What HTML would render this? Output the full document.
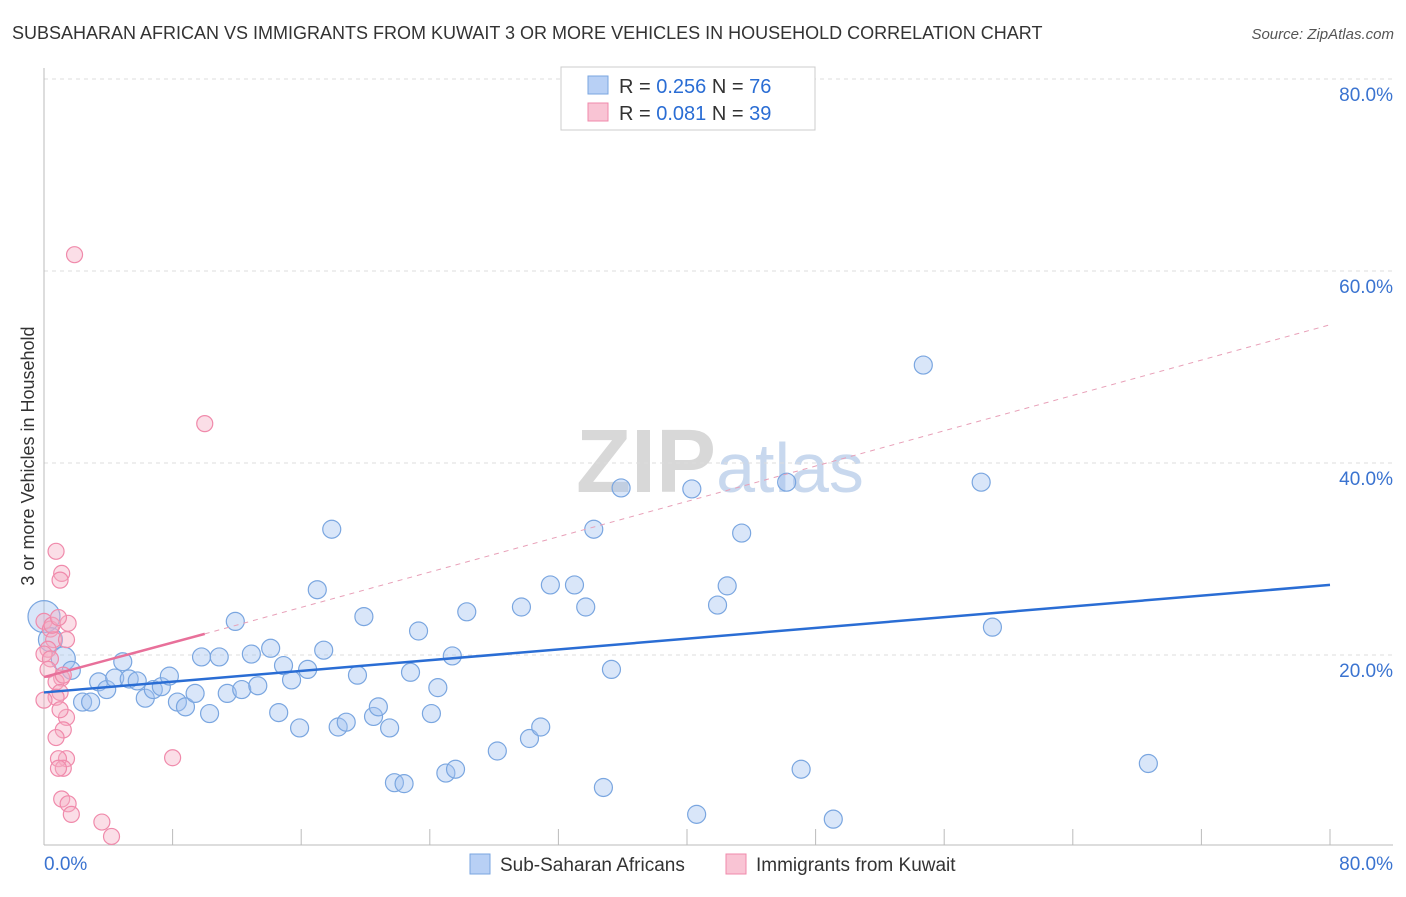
<!DOCTYPE html>
<html><head><meta charset="utf-8"><style>
body{margin:0;background:#fff;font-family:"Liberation Sans",sans-serif}
svg text{font-family:"Liberation Sans",sans-serif}
</style></head><body>
<svg id="c" width="1406" height="892" xmlns="http://www.w3.org/2000/svg">
<text x="12" y="39" font-size="18" fill="#333">SUBSAHARAN AFRICAN VS IMMIGRANTS FROM KUWAIT 3 OR MORE VEHICLES IN HOUSEHOLD CORRELATION CHART</text>
<text x="1394" y="39" font-size="15" fill="#555" text-anchor="end" font-style="italic">Source: ZipAtlas.com</text>
<text x="34" y="456" font-size="18" fill="#333" text-anchor="middle" transform="rotate(-90 34 456)">3 or more Vehicles in Household</text>
<text x="720" y="492" font-size="90" fill="#ddd" text-anchor="middle" font-family="Liberation Serif"><tspan font-weight="bold" fill="#d8d8d8">ZIP</tspan><tspan fill="#c8d8ee" font-family="Liberation Sans" font-size="70">atlas</tspan></text>
<g id="grid"></g><g id="marks"></g>
<g>
<rect x="561" y="67" width="254" height="63" fill="#fff" stroke="#ccc"/>
<rect x="588" y="76" width="20" height="18" fill="#b8d0f5" stroke="#7aa6e0"/>
<rect x="588" y="103" width="20" height="18" fill="#f9c4d4" stroke="#f08aab"/>
<text x="619" y="93" font-size="20" fill="#333">R = <tspan fill="#2a6dd4">0.256</tspan>   N = <tspan fill="#2a6dd4">76</tspan></text>
<text x="619" y="120" font-size="20" fill="#333">R = <tspan fill="#2a6dd4">0.081</tspan>   N = <tspan fill="#2a6dd4">39</tspan></text>
</g>
<g>
<rect x="470" y="854" width="20" height="20" fill="#b8d0f5" stroke="#7aa6e0"/>
<text x="500" y="871" font-size="19" fill="#333">Sub-Saharan Africans</text>
<rect x="726" y="854" width="20" height="20" fill="#f9c4d4" stroke="#f08aab"/>
<text x="756" y="871" font-size="19" fill="#333">Immigrants from Kuwait</text>
</g>
</svg>
<script>
const yTicks=[20,40,60,80];
const xTicks=[0,8,16,24,32,40,48,56,64,72,80];
const blueX=[0,0.4,1.2,1.7,2.4,2.9,3.4,3.9,4.4,4.9,5.3,5.8,6.3,6.8,7.3,7.8,8.3,8.8,9.4,9.8,10.3,10.9,11.4,11.9,12.3,12.9,13.3,14.1,14.6,14.9,15.4,15.9,16.4,17.0,17.4,17.9,18.3,18.8,19.5,19.9,20.5,20.8,21.5,21.8,22.4,22.8,23.3,24.1,24.5,25.0,25.4,25.6,26.3,28.2,29.7,30.2,30.9,31.5,33.0,33.7,34.2,34.8,35.3,35.9,40.3,40.6,41.9,42.5,43.4,46.2,47.1,49.1,54.7,58.3,59.0,68.7];
const blueY=[24.0,21.6,19.6,18.4,15.1,15.1,17.2,16.4,17.6,19.3,17.5,17.3,15.5,16.4,16.7,17.8,15.1,14.6,16.0,19.8,13.9,19.8,16.0,23.5,16.4,20.1,16.8,20.7,14.0,18.9,17.4,12.4,18.5,26.8,20.5,33.1,12.5,13.0,17.9,24.0,13.6,14.6,12.4,6.7,6.6,18.2,22.5,13.9,16.6,7.7,19.9,8.1,24.5,10.0,25.0,11.3,12.5,27.3,27.3,25.0,33.1,6.2,18.5,37.4,37.3,3.4,25.2,27.2,32.7,38.0,8.1,2.9,50.2,38.0,22.9,8.7];
const pinkX=[1.9,10.0,0.75,1.1,1.0,0,0.4,0.6,0.25,0,0.4,1.5,1.1,0.75,1.2,1.0,0.75,1.4,1.0,1.2,0.75,1.4,0.9,1.2,0.9,8.0,1.1,1.5,1.7,3.6,4.2,0.25,0.5,0.9,1.4,0];
const pinkY=[61.7,44.1,30.8,28.5,27.8,23.5,22.7,21.6,20.6,20.1,19.6,23.3,17.6,17.2,17.9,16.1,15.6,13.5,14.3,12.2,11.4,9.2,9.2,8.2,8.2,9.3,5.0,4.5,3.4,2.6,1.1,18.5,23.1,23.9,21.6,15.3];
const blueLine=[[0,16.1],[80,27.3]];
const pinkSolid=[[0,17.7],[10,22.2]];
const pinkDash=[[10,22.2],[80,54.4]];
const X=v=>44+v*16.075, Y=v=>847-v*9.6;
const NS='http://www.w3.org/2000/svg';
const grid=document.getElementById('grid'), marks=document.getElementById('marks');
function mk(tag,attrs,parent){const e=document.createElementNS(NS,tag);for(const k in attrs)e.setAttribute(k,attrs[k]);parent.appendChild(e);return e;}
yTicks.forEach(t=>{
 const l=mk('line',{x1:44,x2:1393,y1:Y(t),y2:Y(t),stroke:'#ddd','stroke-dasharray':'4,4'},grid);
 
 
 const tx=mk('text',{x:1393,y:Y(t)+22,'font-size':19,fill:'#3a73d0','text-anchor':'end'},grid);
 tx.textContent=t.toFixed(1)+'%';
 
 
});
const ax=mk('line',{x1:44,x2:44,y1:68,y2:845,stroke:'#bbb'},grid);


const bx=mk('line',{x1:44,x2:1393,y1:845,y2:845,stroke:'#bbb'},grid);


xTicks.forEach(t=>{
 const l=mk('line',{x1:X(t),x2:X(t),y1:829,y2:845,stroke:'#bbb'},grid);
 
 
});
[[0,'start'],[80,'end']].forEach(([t,a])=>{
 const tx=mk('text',{x:t?1393:44,y:870,'font-size':19,fill:'#3a73d0','text-anchor':a},grid);
 tx.textContent=t.toFixed(1)+'%';
 
 
});
blueX.forEach((v,i)=>{
 const r=i==0?16:(i<3?12:9);
 const c=mk('circle',{cx:X(v),cy:Y(blueY[i]),r:r,fill:'rgba(160,192,240,0.4)',stroke:'#7aa6e0','stroke-width':1.2},marks);
 
 
});
pinkX.forEach((v,i)=>{
 const c=mk('circle',{cx:X(v),cy:Y(pinkY[i]),r:8,fill:'rgba(246,172,196,0.4)',stroke:'#f08aab','stroke-width':1.2},marks);
 
 
});
const pd=mk('line',{x1:X(pinkDash[0][0]),y1:Y(pinkDash[0][1]),x2:X(pinkDash[1][0]),y2:Y(pinkDash[1][1]),stroke:'#e8a0b8','stroke-dasharray':'5,5','stroke-width':1},marks);


const bl=mk('line',{x1:X(blueLine[0][0]),y1:Y(blueLine[0][1]),x2:X(blueLine[1][0]),y2:Y(blueLine[1][1]),stroke:'#2a6dd4','stroke-width':2.5},marks);


const ps=mk('line',{x1:X(pinkSolid[0][0]),y1:Y(pinkSolid[0][1]),x2:X(pinkSolid[1][0]),y2:Y(pinkSolid[1][1]),stroke:'#e8709a','stroke-width':2.5},marks);


</script>
</body></html>
